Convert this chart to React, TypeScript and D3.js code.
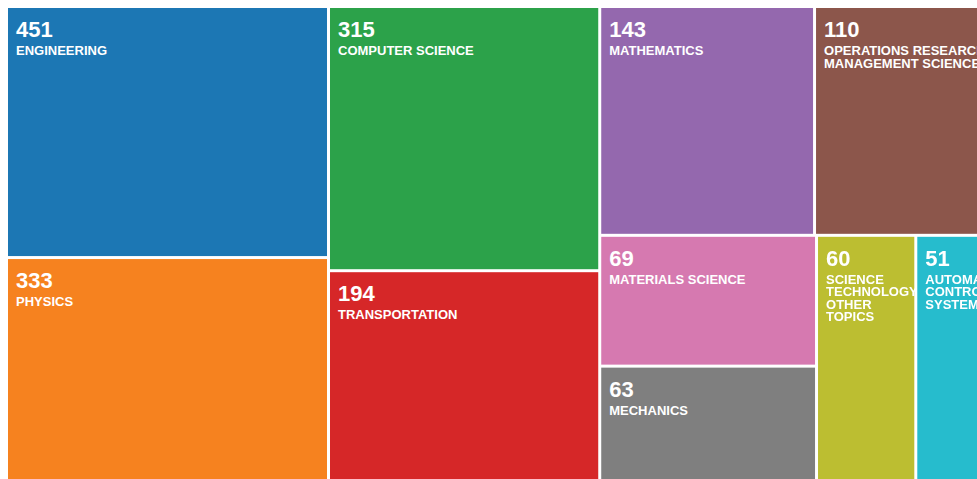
import React, { useMemo } from "react";
import * as d3 from "d3";

// Categories in drawing order (descending record count)
const categories = [
  "ENGINEERING",
  "PHYSICS",
  "COMPUTER SCIENCE",
  "TRANSPORTATION",
  "MATHEMATICS",
  "OPERATIONS RESEARCH MANAGEMENT SCIENCE",
  "MATERIALS SCIENCE",
  "MECHANICS",
  "SCIENCE TECHNOLOGY OTHER TOPICS",
  "AUTOMATION CONTROL SYSTEMS",
];

// Record counts printed on each tile
const counts = [451, 333, 315, 194, 143, 110, 69, 63, 60, 51];

// Relative tile areas (thousands of px²)
const tileAreas = [80.1, 74.0, 71.0, 58.8, 48.7, 44.2, 28.1, 26.5, 25.0, 23.6];

// Nesting of the tiles (column / row groups)
const groupPath = [
  ["c1"],
  ["c1"],
  ["c2"],
  ["c2"],
  ["c3", "top"],
  ["c3", "top"],
  ["c3", "bottom", "sub"],
  ["c3", "bottom", "sub"],
  ["c3", "bottom"],
  ["c3", "bottom"],
];

// Tile colours as seen in the picture
const palette = [
  "#1c77b4",
  "#f6821f",
  "#2ca24a",
  "#d62728",
  "#9468ae",
  "#8c564b",
  "#d679b0",
  "#7f7f7f",
  "#bcbe31",
  "#26bccd",
];

const LAYOUT_W = 1000;
const LAYOUT_H = 480;
const FONT = "Arial, 'Liberation Sans', Helvetica, sans-serif";
const LABEL_SIZE = 13;
const LINE_H = 12.5;

let ctx: CanvasRenderingContext2D | null = null;
function measure(text: string): number {
  if (!ctx) {
    const c = document.createElement("canvas");
    ctx = c.getContext("2d");
  }
  if (!ctx) return text.length * 8;
  ctx.font = `bold ${LABEL_SIZE}px Arial, 'Liberation Sans', sans-serif`;
  return ctx.measureText(text).width;
}

function wrap(text: string, maxW: number): string[] {
  const words = text.split(" ");
  const lines: string[] = [];
  let cur = "";
  for (const w of words) {
    const test = cur ? cur + " " + w : w;
    if (cur && measure(test) > maxW) {
      lines.push(cur);
      cur = w;
    } else {
      cur = test;
    }
  }
  if (cur) lines.push(cur);
  return lines;
}

export default function App() {
  const color = d3.scaleOrdinal<string, string>(palette).domain(categories);

  const leaves = useMemo(() => {
    const root: any = { name: "root", children: [] };
    categories.forEach((c, i) => {
      let node = root;
      for (const g of groupPath[i]) {
        let child = node.children.find((n: any) => n.name === g);
        if (!child) {
          child = { name: g, children: [] };
          node.children.push(child);
        }
        node = child;
      }
      node.children.push({ name: c, count: counts[i], area: tileAreas[i] });
    });
    const h = d3.hierarchy(root).sum((d: any) => d.area || 0);
    d3.treemap<any>()
      .tile(d3.treemapSliceDice)
      .size([LAYOUT_W, LAYOUT_H])
      .paddingInner(3)
      .round(false)(h);
    return h.leaves() as d3.HierarchyRectangularNode<any>[];
  }, []);

  return (
    <svg
      width={969}
      height={471}
      style={{ position: "fixed", left: 8, top: 8, overflow: "hidden" }}
    >
      {leaves.map((lf) => {
        const d = lf.data;
        const w = lf.x1 - lf.x0;
        const lines = wrap(d.name, w - 16);
        return (
          <g key={d.name} transform={`translate(${lf.x0},${lf.y0})`}>
            <rect width={w} height={lf.y1 - lf.y0} fill={color(d.name)} />
            <text
              x={8}
              y={29}
              fill="#fff"
              fontFamily={FONT}
              fontWeight="bold"
              fontSize={22}
            >
              {d.count}
            </text>
            <text
              x={8}
              y={47}
              fill="#fff"
              fontFamily={FONT}
              fontWeight="bold"
              fontSize={LABEL_SIZE}
            >
              {lines.map((ln, j) => (
                <tspan key={j} x={8} y={47 + j * LINE_H}>
                  {ln}
                </tspan>
              ))}
            </text>
          </g>
        );
      })}
    </svg>
  );
}
